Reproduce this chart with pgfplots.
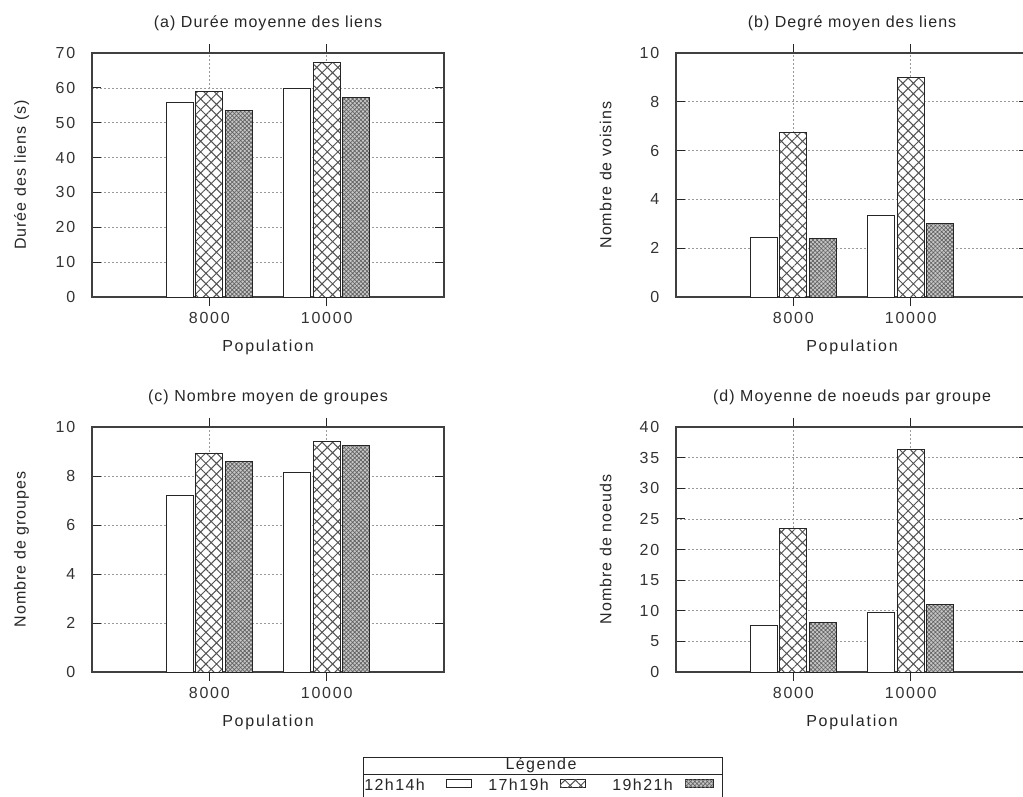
\documentclass[border=0pt]{standalone}
\usepackage{pgfplots}
\pgfplotsset{compat=1.18}
\usepackage{fontspec}
\setmainfont{Liberation Sans}[LetterSpace=6.5]
\newfontfamily\wide{Liberation Sans}[LetterSpace=11]
\newfontfamily\leg{Liberation Sans}[LetterSpace=9]
\usetikzlibrary{patterns,patterns.meta}

\tikzset{
  lA/.style={fill=white, draw=black!85, line width=0.7pt},
  lB/.style={fill=white, draw=black!85, line width=0.7pt,
    postaction={pattern={Hatch[angle=45,distance=5.6pt,line width=0.75pt]}, pattern color=black!68}},
  lC/.style={fill=black!22, draw=black!85, line width=0.7pt,
    postaction={pattern={Hatch[angle=45,distance=2.2pt,line width=0.5pt]}, pattern color=black!62}},
}

\pgfplotsset{
  panel/.style={
    scale only axis, width=264pt, height=183pt, anchor=south west,
    xmin=0, xmax=3, xtick={1,2}, xticklabels={8000,10000}, ymin=0,
    ymajorgrids, xmajorgrids,
    grid style={dash pattern=on 1.5pt off 1.5pt, black!40, line width=0.5pt},
    tick align=inside, major tick length=6.75pt,
    tick style={black!85, line width=0.7pt},
    axis line style={black!75, line width=0.8pt},
    /pgf/number format/assume math mode=true,
    ticklabel style={black!80, font=\fontsize{12}{14}\wide},
    yticklabel style={xshift=-9pt},
    xticklabel style={yshift=-1pt},
    xlabel={Population},
    xlabel style={at={(axis description cs:0.5,-0.205)}, anchor=center, black!85, font=\fontsize{12}{14}\wide},
    ylabel style={at={(axis description cs:-0.2,0.5)}, anchor=center, black!85},
    title style={at={(axis description cs:0.5,1.09)}, anchor=center, black!85},
    ybar, bar width=0.23,
  },
  sA/.style={bar shift=-0.25, lA},
  sB/.style={bar shift=0, lB},
  sC/.style={bar shift=0.25, lC},
}

\begin{document}
\begin{tikzpicture}[font=\fontsize{12}{14}\selectfont]
\path[use as bounding box] (0,0) rectangle (767.25pt,-597pt);

% (a)
\begin{axis}[panel, at={(69pt,-222.75pt)}, ymax=70, ytick={0,10,...,70},
  title={(a) Durée moyenne des liens}, ylabel={Durée des liens (s)}]
\addplot[sA] coordinates {(1,55.8) (2,59.9)};
\addplot[sB] coordinates {(1,59.0) (2,67.3)};
\addplot[sC] coordinates {(1,53.6) (2,57.3)};
\end{axis}

% (b)
\begin{axis}[panel, at={(507pt,-222.75pt)}, ymax=10, ytick={0,2,...,10},
  title={(b) Degré moyen des liens}, ylabel={Nombre de voisins}]
\addplot[sA] coordinates {(1,2.43) (2,3.33)};
\addplot[sB] coordinates {(1,6.75) (2,9.0)};
\addplot[sC] coordinates {(1,2.38) (2,3.02)};
\end{axis}

% (c)
\begin{axis}[panel, at={(69pt,-504pt)}, height=183.75pt, ymax=10, ytick={0,2,...,10},
  title={(c) Nombre moyen de groupes}, ylabel={Nombre de groupes}]
\addplot[sA] coordinates {(1,7.2) (2,8.13)};
\addplot[sB] coordinates {(1,8.94) (2,9.4)};
\addplot[sC] coordinates {(1,8.6) (2,9.24)};
\end{axis}

% (d)
\begin{axis}[panel, at={(507pt,-504pt)}, height=183.75pt, ymax=40, ytick={0,5,...,40},
  title={(d) Moyenne de noeuds par groupe}, ylabel={Nombre de noeuds}]
\addplot[sA] coordinates {(1,7.6) (2,9.7)};
\addplot[sB] coordinates {(1,23.45) (2,36.4)};
\addplot[sC] coordinates {(1,8.13) (2,11.1)};
\end{axis}

% legend
\begin{scope}[x=0.75pt, y=-0.75pt, font=\fontsize{12}{14}\leg]
\draw[black!85, line width=0.7pt] (363,757) rectangle (722,799);
\draw[black!85, line width=0.7pt] (363,774) -- (722,774);
\node[anchor=center, black!85, inner sep=0] at (541,765.5) {Légende};
\node[anchor=west, black!85, inner sep=0] at (364,785) {12h14h};
\node[anchor=west, black!85, inner sep=0] at (488,785) {17h19h};
\node[anchor=west, black!85, inner sep=0] at (612,785) {19h21h};
\draw[lA] (446,779) rectangle (471,787);
\draw[lB] (560,779) rectangle (585,787);
\draw[lC] (685,779) rectangle (713,787);
\end{scope}
\end{tikzpicture}
\end{document}
